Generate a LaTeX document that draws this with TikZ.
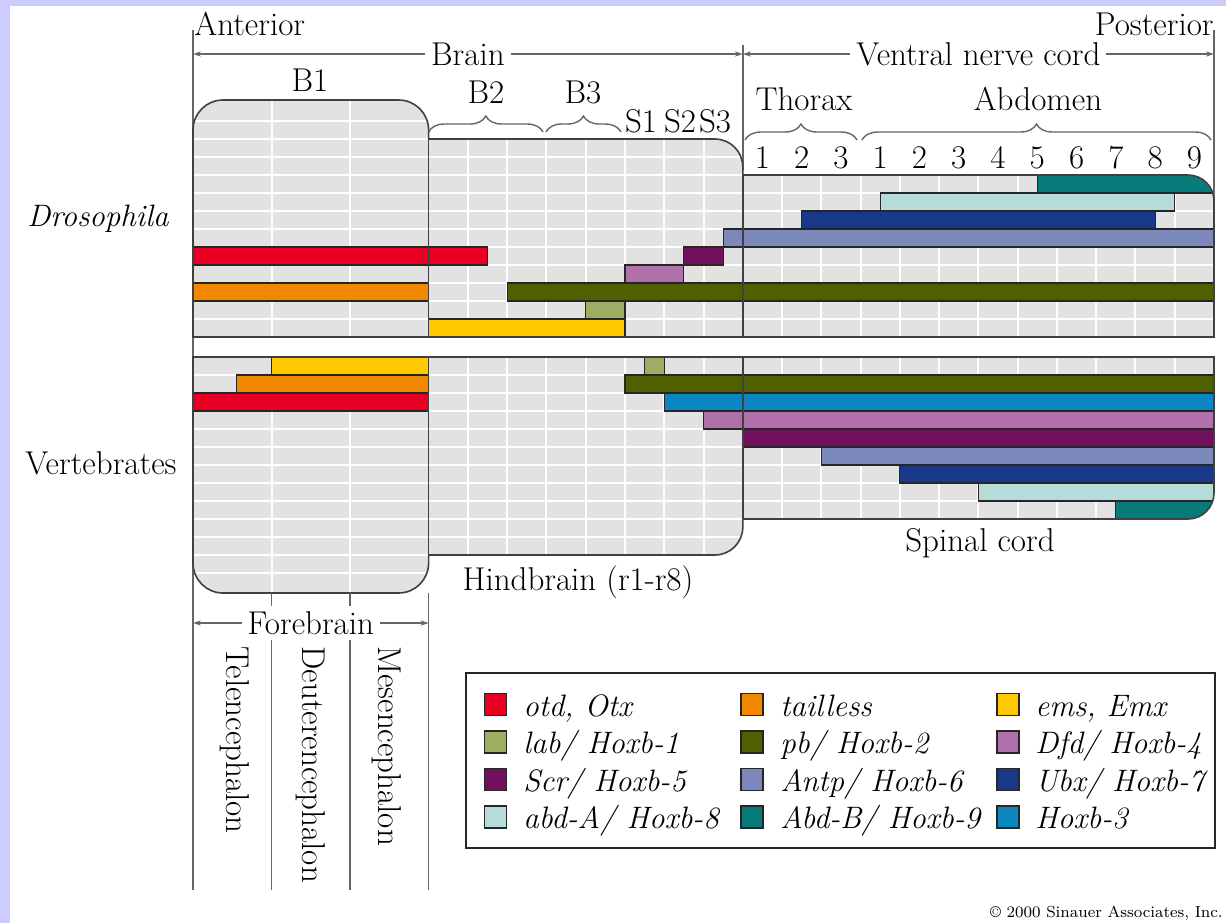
\documentclass[tikz,border=0pt]{standalone}
\usepackage{tikz}
\usetikzlibrary{arrows.meta,decorations.pathreplacing}

\definecolor{frame}{RGB}{204,204,255}
\definecolor{gridgray}{RGB}{226,226,226}
\definecolor{otdc}{RGB}{232,0,36}
\definecolor{tllc}{RGB}{240,136,0}
\definecolor{emsc}{RGB}{255,200,0}
\definecolor{labc}{RGB}{156,174,98}
\definecolor{pbc}{RGB}{80,96,0}
\definecolor{dfdc}{RGB}{178,112,170}
\definecolor{scrc}{RGB}{114,16,94}
\definecolor{antpc}{RGB}{124,136,186}
\definecolor{ubxc}{RGB}{24,56,136}
\definecolor{abdac}{RGB}{182,220,218}
\definecolor{abdbc}{RGB}{8,122,122}
\definecolor{hoxthreec}{RGB}{10,134,192}

\newcommand{\basefont}{\fontsize{16.5}{19}\selectfont}
\newcommand{\keyfont}{\fontsize{15.5}{18}\selectfont\itshape}
\newcommand{\cx}[1]{193+39.27*(#1)}
\newcommand{\drosopath}{(193,337) -- (193,130) .. controls (193,113.4) and (206.4,100) .. (223,100) -- (398.6,100) .. controls (415.2,100) and (428.6,113.4) .. (428.6,130) -- (428.6,139) -- (714.8,139) .. controls (730.3,139) and (742.8,151.5) .. (742.8,167) -- (742.8,175) -- (1188,175) .. controls (1202.4,175) and (1214,186.6) .. (1214,201) -- (1214,337) -- cycle}
\newcommand{\vertpath}{(193,357) -- (1214,357) -- (1214,493) .. controls (1214,507.4) and (1202.4,519) .. (1188,519) -- (742.8,519) -- (742.8,527) .. controls (742.8,542.5) and (730.3,555) .. (714.8,555) -- (428.6,555) -- (428.6,563) .. controls (428.6,579.6) and (415.2,593) .. (398.6,593) -- (223,593) .. controls (206.4,593) and (193,579.6) .. (193,563) -- cycle}

\tikzset{
  outline/.style={draw=black!75, line width=0.8pt},
  guide/.style={draw=black!60, line width=0.7pt},
  span/.style={guide, {Stealth[length=4pt,width=2.6pt]}-{Stealth[length=4pt,width=2.6pt]}},
  brc/.style={guide, decorate, decoration={brace, amplitude=8pt}},
  gene/.style={draw=black!85, line width=0.6pt},
  gridline/.style={white, line width=1pt},
  txt/.style={inner sep=0pt, text=black, font=\basefont},
  tag/.style={txt, fill=white, inner xsep=3pt, inner ysep=2pt},
  swatch/.style={gene, minimum width=11pt, minimum height=11pt, inner sep=0pt},
  key/.style={txt, anchor=base west, font=\keyfont},
}

\begin{document}
\begin{tikzpicture}[x=0.5pt, y=-0.5pt]
\useasboundingbox (0,0) rectangle (1226,923);
\fill[frame] (0,0) rectangle (1226,923);
\fill[white] (10,6) rectangle (1226,923);

% anterior - posterior axis
\draw[guide] (193,30) -- (193,890);
\draw[guide] (742.8,45) -- (742.8,170);
\draw[guide] (1214,30) -- (1214,201);
\coordinate (ant) at (193,54);
\coordinate (cut) at (742.8,54);
\coordinate (post) at (1214,54);
\draw[span] (ant) -- (cut) node[tag, midway] (brain) {Brain};
\draw[span] (cut) -- (post) node[tag, midway] (vnc) {Ventral nerve cord};

\node[txt, anchor=base west] (anterior) at (194,35) {Anterior};
\node[txt, anchor=base east] (posterior) at (1214,35) {Posterior};
\node[txt, anchor=base] (bone) at (310,91) {B1};

% segment braces
\draw[brc] (428.6,132) -- (543,132);
\draw[brc] (546,132) -- (621,132);
\draw[brc] (745,140) -- (857,140);
\draw[brc] (862,140) -- (1211,140);
\node[txt, anchor=base] (btwo) at (486,103) {B2};
\node[txt, anchor=base] (bthree) at (583,103) {B3};
\node[txt, anchor=base] (thorax) at (804,110) {Thorax};
\node[txt, anchor=base] (abdomen) at (1038,110) {Abdomen};
\foreach \s/\x in {1/641,2/680,3/715}
  \node[txt, anchor=base] (s\s) at (\x,132) {S\s};
\foreach \n [count=\i from 0] in {1,2,3,1,2,3,4,5,6,7,8,9}
  \node[txt, anchor=base] (seg\i) at ({\cx{14.5+\i}},168) {\n};

% Drosophila
\begin{scope}
\clip \drosopath;
\fill[gridgray] (193,90) rectangle (1214,337);
\foreach \k in {1,...,12}
  \draw[gridline] (193,{337-18*\k}) -- (1214,{337-18*\k});
\foreach \c in {2,4,7,8,9,10,11,12,13,15,16,17,18,19,20,21,22,23,24,25}
  \draw[gridline] ({\cx{\c}},90) -- ({\cx{\c}},337);
\foreach \g/\a/\b/\r in {abdbc/21.5/26.4/0, abdac/17.5/25/1, ubxc/15.5/24.5/2,
    antpc/13.5/26.4/3, otdc/0/7.5/4, scrc/12.5/13.5/4, dfdc/11/12.5/5,
    tllc/0/6/6, pbc/8/26.4/6, labc/10/11/7, emsc/6/11/8}
  \draw[gene, fill=\g] ({\cx{\a}},{175+18*\r}) rectangle ({\cx{\b}},{193+18*\r});
\end{scope}
\draw[outline] \drosopath;
\draw[outline] (428.6,139) -- (428.6,337) (742.8,175) -- (742.8,337);

% vertebrates
\begin{scope}
\clip \vertpath;
\fill[gridgray] (193,357) rectangle (1214,600);
\foreach \k in {1,...,12}
  \draw[gridline] (193,{357+18*\k}) -- (1214,{357+18*\k});
\foreach \c in {2,4,7,8,9,10,11,12,13,15,16,17,18,19,20,21,22,23,24,25}
  \draw[gridline] ({\cx{\c}},357) -- ({\cx{\c}},600);
\foreach \g/\a/\b/\r in {emsc/2/6/0, labc/11.5/12/0, tllc/1.1/6/1, pbc/11/26.4/1,
    otdc/0/6/2, hoxthreec/12/26.4/2, dfdc/13/26.4/3, scrc/14/26.4/4,
    antpc/16/26.4/5, ubxc/18/26.4/6, abdac/20/26.4/7, abdbc/23.5/26.4/8}
  \draw[gene, fill=\g] ({\cx{\a}},{357+18*\r}) rectangle ({\cx{\b}},{375+18*\r});
\end{scope}
\draw[outline] \vertpath;
\draw[outline] (428.6,357) -- (428.6,555) (742.8,357) -- (742.8,519);

\node[txt, anchor=base] (hindbrain) at (578,590) {Hindbrain (r1-r8)};
\node[txt, anchor=base] (spinal) at (980,551) {Spinal cord};
\node[txt, anchor=base west, font=\keyfont] (dros) at (27,226) {Drosophila};
\node[txt, anchor=base west] (vert) at (25,474) {Vertebrates};

% forebrain subdivisions
\draw[guide] (428.6,593) -- (428.6,890);
\draw[guide] ({\cx{2}},593) -- ({\cx{2}},606) ({\cx{2}},640) -- ({\cx{2}},890);
\draw[guide] ({\cx{4}},593) -- ({\cx{4}},606) ({\cx{4}},640) -- ({\cx{4}},890);
\coordinate (fbl) at (193,623);
\coordinate (fbr) at (428.6,623);
\draw[span] (fbl) -- (fbr) node[tag, midway] (forebrain) {Forebrain};
\node[txt, rotate=-90, anchor=west] (tele) at (235,646) {Telencephalon};
\node[txt, rotate=-90, anchor=west] (deut) at (311,646) {Deuterencephalon};
\node[txt, rotate=-90, anchor=west] (mes) at (387,646) {Mesencephalon};

% legend
\node[draw=black!85, line width=1.1pt, minimum width=374.5pt, minimum height=87.5pt,
  inner sep=0pt] (legend) at (840.5,760.5) {};
\foreach \g/\t [count=\r from 0] in {otdc/{otd, Otx}, labc/{lab/ Hoxb-1},
    scrc/{Scr/ Hoxb-5}, abdac/{abd-A/ Hoxb-8}}{
  \node[swatch, fill=\g] (swa\r) at (495.5,{704.5+37.5*\r}) {};
  \node[key] (keya\r) at (523,{716+37.5*\r}) {\t};
}
\foreach \g/\t [count=\r from 0] in {tllc/tailless, pbc/{pb/ Hoxb-2},
    antpc/{Antp/ Hoxb-6}, abdbc/{Abd-B/ Hoxb-9}}{
  \node[swatch, fill=\g] (swb\r) at (752,{704.5+37.5*\r}) {};
  \node[key] (keyb\r) at (780,{716+37.5*\r}) {\t};
}
\foreach \g/\t [count=\r from 0] in {emsc/{ems, Emx}, dfdc/{Dfd/ Hoxb-4},
    ubxc/{Ubx/ Hoxb-7}, hoxthreec/Hoxb-3}{
  \node[swatch, fill=\g] (swc\r) at (1008,{704.5+37.5*\r}) {};
  \node[key] (keyc\r) at (1035,{716+37.5*\r}) {\t};
}

\node[txt, anchor=base east, font=\fontsize{8}{9}\selectfont] (copy) at (1223,917)
  {\textcopyright{} 2000 Sinauer Associates, Inc.};
\end{tikzpicture}
\end{document}
